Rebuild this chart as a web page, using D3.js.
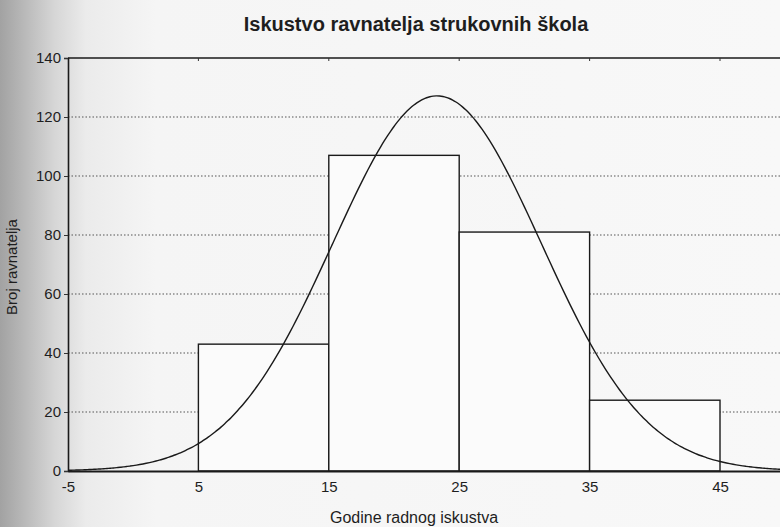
<!DOCTYPE html>
<html>
<head>
<meta charset="utf-8">
<script src="https://cdn.jsdelivr.net/npm/d3@7"></script>
<style>
  html, body { margin: 0; padding: 0; background: #f7f7f7; }
  svg { display: block; }
  text { font-family: "Liberation Sans", Arial, sans-serif; fill: #1e1e1e; }
</style>
</head>
<body>
<svg id="chart" width="780" height="527"></svg>
<script>
// Histogram bins (years of experience) and head-teacher counts
const binStarts = [5, 15, 25, 35];
const binWidth = 10;
const counts = [43, 107, 81, 24];

// Fitted normal curve parameters
const fitMean = 23.3;
const fitSd = 8.0;

const xTicks = [-5, 5, 15, 25, 35, 45];
const yTicks = [0, 20, 40, 60, 80, 100, 120, 140];
const gridValues = [20, 40, 60, 80, 100, 120];

const titleText = "Iskustvo ravnatelja strukovnih škola";
const xLabel = "Godine radnog iskustva";
const yLabel = "Broj ravnatelja";

const W = 780, H = 527;
const svg = d3.select("#chart");

// paper shading toward the binding on the left
const defs = svg.append("defs");
const grad = defs.append("linearGradient").attr("id", "paper")
  .attr("x1", 0).attr("x2", 1).attr("y1", 0).attr("y2", 0);
[[0, "#a2a2a2"], [0.03, "#b8b8b8"], [0.07, "#d6d6d6"], [0.11, "#ebebeb"], [0.2, "#f5f5f5"], [1, "#f8f8f8"]]
  .forEach(([o, c]) => grad.append("stop").attr("offset", o).attr("stop-color", c));
svg.append("rect").attr("width", W).attr("height", H).attr("fill", "url(#paper)");

// the plot area runs on past the right edge of the page
const x = d3.scaleLinear().domain([-5, 55]).range([68, 68 + 60 * 13.04]);
const y = d3.scaleLinear().domain([0, 140]).range([471, 58]);

const plot = svg.append("g");

// dotted horizontal gridlines
plot.selectAll("line.grid").data(gridValues).join("line")
  .attr("class", "grid")
  .attr("x1", x(-5)).attr("x2", x(55))
  .attr("y1", d => y(d)).attr("y2", d => y(d))
  .attr("stroke", "#555").attr("stroke-width", 1.2)
  .attr("stroke-dasharray", "1.5,2");

// histogram bars
plot.selectAll("rect.bar").data(counts).join("rect")
  .attr("class", "bar")
  .attr("x", (d, i) => x(binStarts[i]))
  .attr("width", (d, i) => x(binStarts[i] + binWidth) - x(binStarts[i]))
  .attr("y", d => y(d))
  .attr("height", d => y(0) - y(d))
  .attr("fill", "#fbfbfb").attr("stroke", "#1a1a1a").attr("stroke-width", 1.4);

// expected frequencies from the fitted normal distribution
const total = d3.sum(counts);
const expected = v => total * binWidth / (fitSd * Math.sqrt(2 * Math.PI)) *
  Math.exp(-0.5 * Math.pow((v - fitMean) / fitSd, 2));
const curveXs = d3.range(-5, 55.01, 0.25);
plot.append("path")
  .datum(curveXs)
  .attr("fill", "none").attr("stroke", "#1a1a1a").attr("stroke-width", 1.4)
  .attr("d", d3.line().x(d => x(d)).y(d => y(expected(d))).curve(d3.curveMonotoneX));

// top frame line
plot.append("line").attr("x1", x(-5)).attr("x2", x(55)).attr("y1", y(140)).attr("y2", y(140))
  .attr("stroke", "#1a1a1a").attr("stroke-width", 1.6);

const fontFam = "Liberation Sans, Arial, sans-serif";

const yAxis = d3.axisLeft(y).tickValues(yTicks).tickSize(4).tickPadding(3)
  .tickFormat(d => String(d));
const gy = svg.append("g").attr("transform", `translate(${x(-5)},0)`).call(yAxis);
gy.select(".domain").attr("stroke", "#1a1a1a").attr("stroke-width", 1.6);
gy.selectAll(".tick line").attr("stroke", "#333");
gy.selectAll(".tick text").attr("font-size", 15).attr("font-family", fontFam).attr("fill", "#1e1e1e");

const xAxis = d3.axisBottom(x).tickValues(xTicks).tickSize(0).tickPadding(10)
  .tickFormat(d => String(d));
const gx = svg.append("g").attr("transform", `translate(0,${y(0)})`).call(xAxis);
gx.select(".domain").attr("stroke", "#1a1a1a").attr("stroke-width", 1.8);
gx.selectAll(".tick text").attr("font-size", 15).attr("font-family", fontFam).attr("fill", "#1e1e1e");

// small inward ticks on the top frame
svg.selectAll("line.topTick").data(xTicks.slice(1)).join("line")
  .attr("class", "topTick")
  .attr("x1", d => x(d)).attr("x2", d => x(d))
  .attr("y1", y(140)).attr("y2", y(140) + 3)
  .attr("stroke", "#333");

// titles
svg.append("text").attr("x", 416).attr("y", 31).attr("text-anchor", "middle")
  .attr("font-size", 20).attr("font-weight", "bold").text(titleText);
svg.append("text").attr("x", 414).attr("y", 523).attr("text-anchor", "middle")
  .attr("font-size", 16).text(xLabel);
svg.append("text").attr("transform", "translate(17,267) rotate(-90)")
  .attr("text-anchor", "middle").attr("font-size", 15).text(yLabel);
</script>
</body>
</html>
